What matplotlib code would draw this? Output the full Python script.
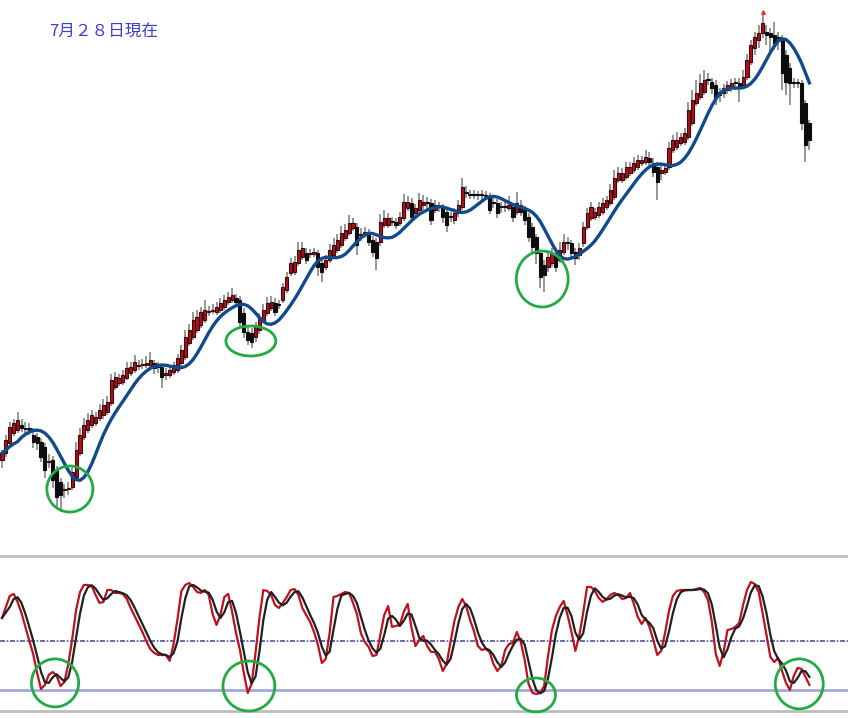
import numpy as np
import pandas as pd
import matplotlib
matplotlib.use("Agg")
import matplotlib.pyplot as plt
from matplotlib.patches import Ellipse

# daily candles (price units are arbitrary, the chart shows no axis)
opens = [
    100, 107, 117, 127, 130, 135, 132, 132, 125, 123, 118, 113, 98, 100, 90, 78, 70, 71,
    73, 83, 107, 123, 130, 135, 137, 142, 145, 148, 157, 173, 177, 178, 182, 187, 190, 194,
    195, 195, 195, 197, 193, 193, 185, 185, 188, 190, 197, 203, 217, 223, 230, 235, 240, 248,
    249, 248, 250, 253, 258, 260, 262, 260, 247, 228, 227, 223, 230, 240, 247, 252, 257, 255,
    260, 270, 287, 288, 297, 303, 307, 306, 306, 307, 297, 293, 300, 305, 310, 315, 322, 327,
    332, 333, 325, 325, 327, 320, 318, 318, 335, 335, 338, 338, 337, 342, 352, 357, 347, 350,
    355, 357, 357, 350, 353, 352, 348, 343, 340, 347, 353, 367, 366, 365, 365, 365, 365, 363,
    357, 357, 353, 353, 352, 353, 348, 355, 350, 343, 333, 323, 307, 295, 293, 297, 305, 300,
    308, 317, 317, 308, 305, 317, 333, 342, 343, 345, 348, 353, 357, 363, 380, 380, 383, 387,
    390, 393, 397, 398, 402, 397, 393, 387, 388, 393, 410, 413, 417, 418, 423, 437, 457, 463,
    468, 480, 478, 475, 468, 467, 470, 473, 477, 477, 475, 483, 498, 512, 520, 527, 528, 527,
    525, 522, 522, 505, 492, 477, 477, 477, 457, 437,
]
highs = [
    110, 125, 138, 141, 148, 141, 138, 137, 132, 127, 122, 117, 106, 104, 94, 82, 76, 78,
    92, 118, 132, 142, 147, 150, 148, 156, 161, 164, 186, 188, 186, 190, 198, 198, 205, 200,
    201, 204, 208, 200, 198, 196, 192, 194, 198, 206, 215, 230, 236, 248, 250, 253, 260, 254,
    256, 258, 262, 265, 268, 272, 266, 264, 252, 234, 232, 238, 247, 256, 263, 264, 262, 260,
    277, 288, 302, 304, 318, 318, 312, 311, 312, 310, 300, 305, 316, 322, 326, 334, 336, 345,
    342, 337, 332, 333, 331, 324, 322, 346, 350, 347, 343, 342, 348, 366, 364, 362, 356, 367,
    365, 363, 361, 360, 358, 356, 352, 348, 352, 360, 382, 374, 370, 370, 369, 370, 369, 367,
    362, 361, 358, 358, 364, 357, 368, 360, 354, 347, 337, 326, 310, 300, 310, 312, 310, 318,
    326, 323, 320, 312, 317, 338, 352, 358, 352, 358, 362, 364, 376, 390, 393, 392, 398, 398,
    403, 405, 404, 410, 408, 402, 398, 395, 396, 418, 425, 428, 427, 432, 458, 470, 480, 486,
    490, 487, 482, 480, 472, 476, 479, 481, 482, 482, 490, 506, 520, 528, 535, 545, 535, 532,
    538, 528, 525, 510, 497, 482, 481, 480, 460, 440,
]
lows = [
    92, 103, 112, 124, 127, 128, 126, 125, 112, 110, 98, 82, 92, 72, 53, 48, 62, 65,
    70, 80, 104, 120, 127, 132, 134, 139, 141, 145, 154, 170, 174, 175, 180, 184, 187, 190,
    191, 192, 192, 186, 187, 172, 180, 182, 185, 187, 194, 200, 214, 220, 227, 232, 237, 244,
    246, 245, 247, 250, 255, 257, 254, 232, 222, 215, 212, 218, 226, 237, 244, 249, 244, 251,
    257, 267, 284, 285, 294, 300, 296, 302, 303, 284, 278, 290, 297, 302, 307, 312, 319, 324,
    329, 305, 319, 322, 314, 303, 290, 314, 332, 332, 334, 331, 334, 339, 349, 338, 344, 347,
    350, 350, 335, 347, 348, 337, 328, 338, 336, 343, 350, 362, 361, 361, 360, 360, 360, 346,
    352, 342, 347, 348, 349, 338, 345, 344, 335, 318, 308, 296, 272, 268, 288, 293, 288, 297,
    305, 310, 300, 295, 300, 313, 330, 339, 340, 342, 345, 350, 354, 360, 377, 377, 380, 384,
    387, 390, 394, 395, 395, 383, 360, 380, 385, 390, 407, 410, 414, 415, 420, 434, 454, 460,
    465, 475, 466, 455, 458, 462, 466, 468, 470, 458, 471, 480, 495, 505, 512, 522, 515, 505,
    510, 510, 470, 465, 455, 472, 472, 430, 398, 410,
]
closes = [
    107, 120, 133, 137, 140, 132, 131, 130, 118, 117, 103, 90, 99, 80, 63, 65, 71, 72,
    88, 110, 125, 135, 140, 145, 143, 150, 155, 158, 180, 183, 182, 185, 192, 193, 198, 195,
    196, 197, 200, 192, 193, 183, 187, 190, 195, 202, 210, 223, 230, 240, 243, 248, 250, 249,
    250, 253, 257, 260, 263, 265, 258, 238, 228, 220, 218, 233, 242, 250, 257, 258, 248, 255,
    273, 283, 297, 298, 310, 312, 300, 307, 308, 293, 288, 300, 310, 315, 320, 327, 330, 337,
    337, 315, 325, 328, 318, 308, 302, 338, 342, 342, 338, 335, 343, 358, 358, 343, 352, 360,
    358, 357, 340, 355, 353, 343, 335, 343, 347, 355, 373, 367, 365, 365, 365, 365, 364, 350,
    357, 347, 353, 353, 355, 343, 357, 348, 340, 323, 313, 307, 283, 285, 303, 307, 293, 310,
    318, 317, 307, 302, 312, 333, 347, 353, 348, 353, 357, 360, 370, 382, 387, 387, 393, 393,
    397, 400, 400, 403, 398, 388, 378, 390, 392, 412, 420, 420, 423, 427, 450, 460, 467, 477,
    480, 480, 472, 462, 465, 472, 475, 477, 477, 473, 483, 500, 515, 523, 527, 537, 525, 523,
    517, 522, 487, 478, 477, 477, 477, 437, 415, 420,
]

# stochastics %K (red); %D (black) is its 3 day mean
stoch_k = [
    64.1, 70.8, 77.6, 78.8, 73.9, 67.1, 58.6, 50.0, 42.0, 30.4,
    20.6, 23.1, 29.2, 31.0, 28.6, 22.4, 24.9, 35.9, 51.2, 69.0,
    80.0, 84.3, 84.3, 83.7, 78.2, 73.3, 73.9, 81.2, 81.2, 79.4,
    79.4, 78.8, 75.7, 70.2, 65.3, 60.4, 55.5, 50.0, 45.1, 42.7,
    41.4, 41.4, 41.4, 37.8, 48.2, 63.5, 80.6, 84.3, 85.5, 83.1,
    80.0, 79.4, 81.2, 78.2, 66.5, 59.8, 65.9, 76.9, 78.8, 67.8,
    54.9, 44.5, 30.4, 18.2, 23.7, 42.7, 64.1, 81.2, 80.6, 78.2,
    72.0, 70.2, 73.3, 76.9, 81.2, 81.8, 78.2, 70.2, 65.9, 61.6,
    55.5, 47.6, 36.5, 39.0, 54.9, 76.9, 77.6, 78.8, 80.0, 79.4,
    73.3, 66.5, 54.9, 49.4, 46.3, 40.8, 41.4, 53.7, 65.9, 71.4,
    58.6, 59.2, 59.8, 67.8, 72.7, 58.0, 46.9, 50.6, 53.1, 46.9,
    43.3, 43.3, 39.0, 31.6, 35.9, 49.4, 62.2, 70.8, 75.7, 71.4,
    62.9, 56.1, 46.9, 44.5, 45.1, 43.3, 35.9, 31.6, 34.7, 44.5,
    48.2, 48.8, 55.5, 49.4, 38.4, 23.7, 18.2, 17.5, 18.2, 22.4,
    40.8, 56.7, 65.3, 70.8, 74.5, 65.9, 55.5, 43.9, 53.1, 67.1,
    83.1, 83.1, 80.6, 76.3, 73.9, 75.7, 78.2, 79.4, 78.2, 75.7,
    76.3, 79.4, 72.7, 64.7, 60.4, 64.1, 58.6, 50.6, 41.4, 43.9,
    54.9, 68.4, 77.6, 80.6, 81.2, 81.2, 81.2, 81.2, 81.8, 82.5,
    80.0, 75.1, 61.6, 42.0, 34.7, 43.3, 56.7, 57.3, 58.6, 61.0,
    72.0, 81.2, 86.1, 84.9, 80.0, 67.1, 53.7, 40.2, 37.1, 39.6,
    31.6, 24.3, 20.0, 28.6, 33.5, 32.9, 28.0, 23.1,
]
stoch_levels = [50, 20]

date_label = "7月２８日現在"

# green circles: (candle index, level, width in candles, height in units)
price_circles = [(17.4, 71, 11.8, 46), (63.8, 219, 12.8, 30), (138.5, 281, 13.3, 56)]
osc_circles = [(13.6, 24.3, 12.1, 29.4), (63.3, 22.4, 13.3, 30.6),
               (136.9, 16.9, 10.0, 20.8), (204.4, 23.7, 12.3, 30.6)]

o = np.array(opens, dtype=float)
h = np.array(highs, dtype=float)
l = np.array(lows, dtype=float)
c = np.array(closes, dtype=float)
x = np.arange(len(c))

# smooth moving average (triangular, ~11 days)
ma = pd.Series(c).rolling(7, min_periods=1).mean().rolling(5, min_periods=1).mean()
k = pd.Series(stoch_k)
d = k.rolling(3, min_periods=1).mean()

fig = plt.figure(figsize=(8.48, 7.18), dpi=100)
ax = fig.add_axes([0, 0.2409, 1, 0.7591])
ax2 = fig.add_axes([0, 0.00975, 1, 0.2159])

xlim = (-0.513, 216.9)

# --- price panel ---
up = c > o
body_lo = np.minimum(o, c)
body_h = np.maximum(np.abs(c - o), 1.5)
ax.vlines(x, l, h, color="#7a7a7a", lw=1.1, zorder=1)
ax.bar(x[up], body_h[up], bottom=body_lo[up], width=0.8,
       color="#b0101c", edgecolor="#3a0a0a", lw=0.8, zorder=2)
ax.bar(x[~up], body_h[~up], bottom=body_lo[~up], width=0.8,
       color="#0d0d0d", edgecolor="#0d0d0d", lw=0.8, zorder=2)
ax.plot(x, ma, color="#0e4a8c", lw=2.4, zorder=3)

top = int(np.argmax(h))
ax.plot(top, h[top] + 3, marker="^", ms=2.5, color="#e03030", zorder=3)

for cx, cy, w, hh in price_circles:
    ax.add_patch(Ellipse((cx, cy), w, hh, fill=False, ec="#22aa44", lw=2, zorder=4))

ax.set_xlim(*xlim)
ax.set_ylim(15, 560)
ax.axis("off")

# --- stochastics panel ---
ax2.axhline(stoch_levels[0], color="#5050a8", lw=1.2, ls=(0, (3, 1, 1, 1)), zorder=1)
ax2.axhline(stoch_levels[1], color="#a4a8d8", lw=2, zorder=1)
ax2.plot(np.arange(len(k)), k, color="#c0101e", lw=1.6, zorder=2)
ax2.plot(np.arange(len(d)), d, color="#202020", lw=1.6, zorder=3)

for cx, cy, w, hh in osc_circles:
    ax2.add_patch(Ellipse((cx, cy), w, hh, fill=False, ec="#22aa44", lw=2,
                          zorder=4, clip_on=False))

ax2.set_xlim(*xlim)
ax2.set_ylim(7.1, 102.05)
ax2.set_xticks([])
ax2.set_yticks([])
for side in ("left", "right"):
    ax2.spines[side].set_visible(False)
for side in ("top", "bottom"):
    ax2.spines[side].set_color("#bdbdbd")
    ax2.spines[side].set_linewidth(2)

fig.text(49 / 848, 1 - 31 / 718, date_label, ha="left", va="center",
         fontsize=12, color="#3c3cd6", family=["Noto Sans CJK JP", "DejaVu Sans"])

fig.savefig("out.png", dpi=100)
